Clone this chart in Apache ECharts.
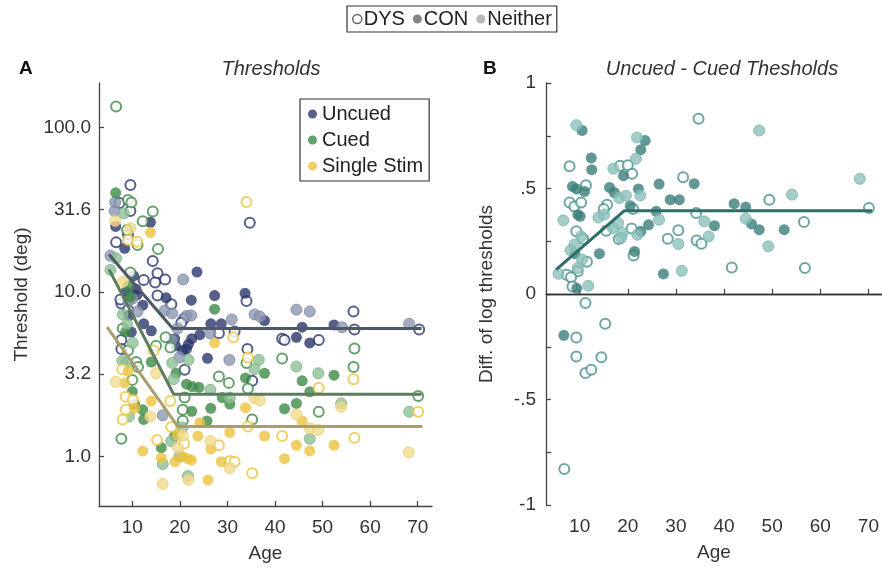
<!DOCTYPE html>
<html>
<head>
<meta charset="utf-8">
<script src="https://cdn.jsdelivr.net/npm/echarts@6/dist/echarts.min.js"></script>
<style>
  html, body { margin: 0; padding: 0; background: #fff; }
  #chart { width: 882px; height: 568px; }
</style>
</head>
<body>
<div id="chart"></div>
<script>
// tick labels
const ageTicks = [10, 20, 30, 40, 50, 60, 70];
const threshTicks = [1, 3.1623, 10, 31.623, 100];

// Panel A: thresholds (deg) by age -- [age, threshold]
const uncuedDys = [[9.6,44.7],[7.3,34.7],[9.6,31],[34.7,26.3],[9.1,22.4],[6.6,20],[14.3,15.4],[15.3,13],[16.9,11.9],[14.8,11.4],[12.4,11.8],[15.3,9.5],[18.2,8.4],[34,8.8],[7.7,8.5],[56.5,7.6],[56.7,5.9],[70.3,5.9],[28.2,5.6],[31.5,5.75],[21,3.36],[34.2,4.5],[35.2,2.88],[41.5,5.2],[42,5.1],[49.2,5.1],[7.7,5.1],[7.7,4.5],[20.9,6.9],[20.3,6.5],[7.5,9.0],[9.1,7.8]];
const uncuedCon = [[6.5,25],[13.8,26.5],[8.4,18.4],[23.6,13.2],[10.3,12.5],[10.8,10.4],[8.7,10],[17.1,9.2],[22.4,8.9],[27.3,9.5],[33.7,9.8],[12.2,8.3],[37.8,6.7],[52.4,6.3],[45.7,6.1],[26.5,6.4],[28.7,6.4],[24.2,5.5],[22.5,5.2],[21.8,4.8],[21.4,4.5],[19.1,4.7],[25.8,3.95],[44.5,5.3],[47.3,4.9],[14,5.8],[12.4,6.4],[9.8,5.7],[20.6,4.4],[18.9,5.2],[11.0,9.6],[9.3,7.2]];
const uncuedNeither = [[6.4,35],[6.3,31],[5.4,16.6],[20.7,11.9],[10,9.1],[16.8,7.7],[18.4,7.4],[21.4,7.15],[22.4,7.2],[35.7,7.3],[36.8,7.1],[44.5,7.8],[47.3,7.6],[54.1,6.1],[68.2,6.4],[30.9,6.8],[26.4,5.6],[19.9,4.0],[18.3,5.1],[30.4,3.86],[16.4,1.78],[9.2,8.8],[11.1,7.6],[19.5,6.0]];

const cuedDys = [[6.6,134],[9.1,36.2],[9.8,35],[14.3,30.8],[12.2,26.9],[8.9,23.8],[11.1,19.3],[15.4,18.2],[9.6,13.1],[9.1,4.4],[17,5.3],[15,4.7],[18,4.6],[10.8,3.75],[10,2.92],[7.7,1.28],[21,2.28],[20.6,1.92],[20.6,1.65],[28.2,3.06],[30.3,2.8],[34,3.7],[34.3,2.59],[35.2,1.68],[41.5,3.94],[49.2,1.87],[56.7,4.53],[56.5,3.5],[70.1,2.33],[8.0,6.0],[11.2,3.5]];
const cuedCon = [[6.5,40],[9.1,10.9],[27.3,7.85],[8.6,5.7],[14,3.75],[10,2.48],[10.5,2.08],[12.2,1.92],[12.4,1.68],[16.1,1.13],[19.2,3.2],[18.9,1.33],[22.5,1.88],[21.4,2.75],[22.6,2.66],[24,2.63],[28.9,2.28],[26.5,1.96],[30.5,2.08],[25.7,1.64],[33.8,3.0],[37.8,3.2],[42,1.95],[44.5,2.1],[45.7,2.88],[47.3,2.47],[52.4,3.12],[9.6,9.3]];
const cuedNeither = [[8.2,30],[6.6,16],[5.4,13.6],[8,7.3],[8.9,6.4],[10.1,4.9],[7.9,3.8],[8.7,3.7],[9.3,1.75],[16.4,0.9],[18.4,3.7],[18.7,2.95],[18.2,1.24],[19.9,1.0],[21.8,3.86],[21.7,0.76],[26.4,2.54],[30.5,2.28],[36.6,3.86],[35.7,3.39],[44.5,3.52],[47.3,1.28],[49.1,3.2],[53.9,2.1],[68.2,1.87],[20.5,1.5]];

const singleDys = [[34,35.2],[9.1,20.7],[11,20.2],[7.9,3.39],[8.6,2.31],[10.1,2.2],[8.6,1.92],[8,1.68],[15.2,1.26],[18.2,1.51],[20.9,1.2],[28.2,1.17],[30.5,0.94],[31.5,0.93],[34.3,1.52],[34.3,4.0],[35.2,0.79],[41.5,1.33],[49.2,2.61],[56.5,2.95],[56.7,1.3],[70.1,1.87],[18,2.17],[31.2,5.3],[14.5,4.4]];
const singleCon = [[13.8,23],[8.4,2.8],[9.1,3.3],[10.5,1.96],[14,2.17],[12.2,1.08],[16.1,0.98],[19,0.93],[20.5,1.0],[21.7,0.97],[22.4,0.95],[25.9,0.72],[23.8,1.33],[24.2,1.6],[26.5,1.11],[28.7,0.93],[30.5,1.4],[33.8,1.98],[37.8,1.33],[27.3,4.9],[42,0.97],[44.5,1.17],[45.7,1.64],[47.3,1.08],[52.4,1.17],[19.5,1.35]];
const singleNeither = [[6.4,27],[9.6,24.4],[8,11.5],[6.5,2.84],[13.8,1.75],[16.4,0.68],[19.6,1.13],[21.8,0.72],[20.6,1.34],[26.4,1.24],[30.5,0.85],[35.7,2.25],[36.8,2.2],[44.5,1.8],[47.3,1.48],[49.1,1.45],[53.9,2.0],[68.1,1.06],[15.0,3.2]];

// piecewise fits
const uncuedFit = [[5.1,16.9],[18.5,6.0],[70.8,6.0]];
const cuedFit = [[5.1,13.7],[18.7,2.39],[70.8,2.39]];
const singleFit = [[4.7,6.1],[19.6,1.52],[71,1.52]];

// Panel B: uncued - cued difference of log thresholds -- [age, diff]
const diffDys = [[34.7,0.831],[7.9,0.605],[18.4,0.608],[20,0.61],[20.9,0.57],[31.5,0.553],[11.3,0.515],[49.4,0.447],[7.9,0.434],[8.9,0.415],[10.3,0.434],[15.7,0.423],[15,0.403],[21.1,0.403],[34.2,0.384],[56.6,0.341],[70.1,0.408],[34.3,0.253],[35.3,0.238],[30.5,0.302],[28.3,0.262],[41.6,0.126],[56.8,0.123],[21.2,0.183],[15.5,0.3],[18.1,0.261],[20.8,0.31],[9.3,0.297],[10.7,0.262],[11.5,0.153],[9.6,0.108],[7.3,0.091],[8.2,0.079],[8.5,0.036],[11.2,-0.043],[15.3,-0.141],[9.3,-0.206],[9.3,-0.296],[14.5,-0.3],[11.2,-0.374],[12.4,-0.359],[6.8,-0.829]];
const diffCon = [[10.5,0.775],[23.6,0.727],[22.7,0.684],[12.4,0.645],[12.5,0.589],[19.1,0.561],[8.5,0.51],[9.3,0.498],[11,0.486],[16.2,0.505],[17.2,0.481],[22.2,0.498],[26.5,0.521],[33.8,0.523],[28.8,0.447],[30.7,0.447],[9.6,0.376],[10.1,0.368],[20.5,0.418],[25.9,0.392],[42.1,0.428],[44.5,0.412],[45.7,0.332],[47.3,0.305],[52.5,0.305],[38,0.324],[24.3,0.328],[27.4,0.095],[21.4,0.202],[14.1,0.191],[22.7,0.297],[9.0,0.191],[9.4,0.027],[6.7,-0.196]];
const diffNeither = [[9.3,0.8],[47.3,0.775],[21.9,0.742],[21.7,0.641],[17,0.594],[22.6,0.467],[54.1,0.471],[68.2,0.546],[18.2,0.455],[19.6,0.466],[44.5,0.357],[35.9,0.344],[36.8,0.273],[30.5,0.237],[26.5,0.352],[49.2,0.226],[31.2,0.11],[13.9,0.363],[15.1,0.376],[16.9,0.313],[18,0.336],[18.9,0.289],[18.6,0.265],[22,0.281],[6.6,0.349],[10.3,0.273],[8.9,0.234],[8.1,0.207],[10.5,0.163],[9.6,0.123],[5.6,0.096],[11.8,0.039]];
const diffFit = [[5.1,0.115],[19.3,0.395],[70.8,0.395]];

const font = '"Liberation Sans", Arial, sans-serif';
const ink = '#333';
const axisCol = '#444';

const pal = {
  Uncued: { main: '#2a376b', light: '#8d97b3', lightEdge: '#7a86a6', fit: '#4f5868' },
  Cued: { main: '#3e8946', light: '#90c196', lightEdge: '#7bb283', fit: '#5c7c5f' },
  'Single Stim': { main: '#ecc43f', light: '#f3dc8e', lightEdge: '#e9cd72', fit: '#a99e6d' },
  diff: { main: '#3b7e79', open: '#4a918b', light: '#8cc0bb', lightEdge: '#7ab3ad', fit: '#2f6d68' }
};

function dots(name, data, idx, kind, c, z) {
  let itemStyle;
  if (kind === 'dys') itemStyle = { color: '#fff', borderColor: c.open || c.main, borderWidth: 2 };
  else if (kind === 'con') itemStyle = { color: c.main, borderWidth: 0 };
  else itemStyle = { color: c.light, borderColor: c.lightEdge, borderWidth: 1 };
  return {
    type: 'scatter', name, data, xAxisIndex: idx, yAxisIndex: idx,
    symbol: 'circle', symbolSize: kind === 'dys' ? 10 : 11,
    itemStyle, z, emphasis: { disabled: true }, silent: true
  };
}

function fitLine(data, idx, color, extra) {
  return Object.assign({
    type: 'line', data, xAxisIndex: idx, yAxisIndex: idx,
    showSymbol: false, symbol: 'none', silent: true, z: 10,
    lineStyle: { color, width: 3 }
  }, extra || {});
}

function ageAxis(idx, max) {
  return {
    type: 'value', gridIndex: idx, min: 3, max,
    name: 'Age', nameLocation: 'middle', nameGap: 38,
    nameTextStyle: { fontSize: 19, color: ink, fontFamily: font },
    axisLine: { lineStyle: { color: axisCol, width: 1.3 } },
    axisTick: { inside: true, length: 5, customValues: ageTicks, lineStyle: { color: axisCol, width: 1.3 } },
    axisLabel: { customValues: ageTicks, fontSize: 19, color: ink, margin: 12, fontFamily: font },
    splitLine: { show: false }
  };
}

const chart = echarts.init(document.getElementById('chart'));
chart.setOption({
  animation: false,
  textStyle: { fontFamily: font },
  title: [
    { text: 'A', left: 14, top: 54, textStyle: { fontSize: 19, fontWeight: 'bold', color: '#111', fontFamily: font } },
    { text: 'B', left: 478, top: 54, textStyle: { fontSize: 19, fontWeight: 'bold', color: '#111', fontFamily: font } },
    { text: 'Thresholds', left: 266, textAlign: 'center', top: 54, textStyle: { fontSize: 20, fontStyle: 'italic', fontWeight: 'normal', color: ink, fontFamily: font } },
    { text: 'Uncued - Cued Thesholds', left: 717, textAlign: 'center', top: 54, textStyle: { fontSize: 20, fontStyle: 'italic', fontWeight: 'normal', color: ink, fontFamily: font } }
  ],
  legend: [
    {
      data: [
        { name: 'DYS', itemStyle: { color: '#fff', borderColor: '#444', borderWidth: 1.5 } },
        { name: 'CON', itemStyle: { color: '#666', borderWidth: 0 } },
        { name: 'Neither', itemStyle: { color: '#a8a8a8', borderWidth: 0 } }
      ],
      left: 347, top: 6, icon: 'circle', itemWidth: 9, itemHeight: 9, itemGap: 8,
      padding: [3, 5], borderColor: '#333', borderWidth: 1.2, selectedMode: false,
      textStyle: { fontSize: 20, color: '#222', fontFamily: font, padding: [0, 0, 0, -3] }
    },
    {
      data: [
        { name: 'Uncued', itemStyle: { color: pal.Uncued.main, borderWidth: 0 } },
        { name: 'Cued', itemStyle: { color: pal.Cued.main, borderWidth: 0 } },
        { name: 'Single Stim', itemStyle: { color: pal['Single Stim'].main, borderWidth: 0 } }
      ],
      orient: 'vertical', left: 300, top: 99, icon: 'circle', itemWidth: 9, itemHeight: 9, itemGap: 6,
      padding: [5, 6, 5, 8], borderColor: '#333', borderWidth: 1.2, selectedMode: false,
      textStyle: { fontSize: 20, color: '#222', fontFamily: font }
    }
  ],
  grid: [
    { left: 99, top: 83, width: 333, height: 423 },
    { left: 546, top: 83, width: 336, height: 422 }
  ],
  xAxis: [ageAxis(0, 73), ageAxis(1, 72.8)],
  yAxis: [
    {
      type: 'log', logBase: 10, gridIndex: 0, min: 0.5, max: 186,
      name: 'Threshold (deg)', nameLocation: 'middle', nameGap: 68,
      nameTextStyle: { fontSize: 19, color: ink, fontFamily: font },
      axisLine: { lineStyle: { color: axisCol, width: 1.3 } },
      axisTick: { inside: true, length: 5, customValues: threshTicks, lineStyle: { color: axisCol, width: 1.3 } },
      axisLabel: { customValues: threshTicks, fontSize: 19, color: ink, margin: 8, fontFamily: font,
        formatter: v => Number(v).toFixed(1) },
      splitLine: { show: false }
    },
    {
      type: 'value', gridIndex: 1, min: -1, max: 1, interval: 0.25,
      name: 'Diff. of log thresholds', nameLocation: 'middle', nameGap: 50,
      nameTextStyle: { fontSize: 19, color: ink, fontFamily: font },
      axisLine: { lineStyle: { color: axisCol, width: 1.3 } },
      axisTick: { inside: true, length: 5, lineStyle: { color: axisCol, width: 1.3 } },
      axisLabel: { fontSize: 19, color: ink, margin: 10, fontFamily: font,
        formatter: v => {
          if (Math.abs(v * 2 - Math.round(v * 2)) > 1e-6) return '';
          if (v === 0) return '0';
          return (v < 0 ? '-' : '') + String(Math.abs(v)).replace(/^0/, '');
        } },
      splitLine: { show: false }
    }
  ],
  series: [
    dots('Uncued', uncuedDys, 0, 'dys', pal.Uncued, 2),
    dots('Uncued', uncuedCon, 0, 'con', pal.Uncued, 2),
    dots('Uncued', uncuedNeither, 0, 'neither', pal.Uncued, 2),
    dots('Cued', cuedDys, 0, 'dys', pal.Cued, 3),
    dots('Cued', cuedCon, 0, 'con', pal.Cued, 3),
    dots('Cued', cuedNeither, 0, 'neither', pal.Cued, 3),
    dots('Single Stim', singleDys, 0, 'dys', pal['Single Stim'], 4),
    dots('Single Stim', singleCon, 0, 'con', pal['Single Stim'], 4),
    dots('Single Stim', singleNeither, 0, 'neither', pal['Single Stim'], 4),
    fitLine(uncuedFit, 0, pal.Uncued.fit),
    fitLine(cuedFit, 0, pal.Cued.fit),
    fitLine(singleFit, 0, pal['Single Stim'].fit),
    dots('DYS', diffDys, 1, 'dys', pal.diff, 3),
    dots('CON', diffCon, 1, 'con', pal.diff, 3),
    dots('Neither', diffNeither, 1, 'neither', pal.diff, 3),
    fitLine(diffFit, 1, pal.diff.fit, {
      markLine: {
        silent: true, symbol: 'none', label: { show: false },
        lineStyle: { color: '#333', width: 1.3, type: 'solid' },
        data: [{ yAxis: 0 }]
      }
    })
  ]
});
</script>
</body>
</html>
